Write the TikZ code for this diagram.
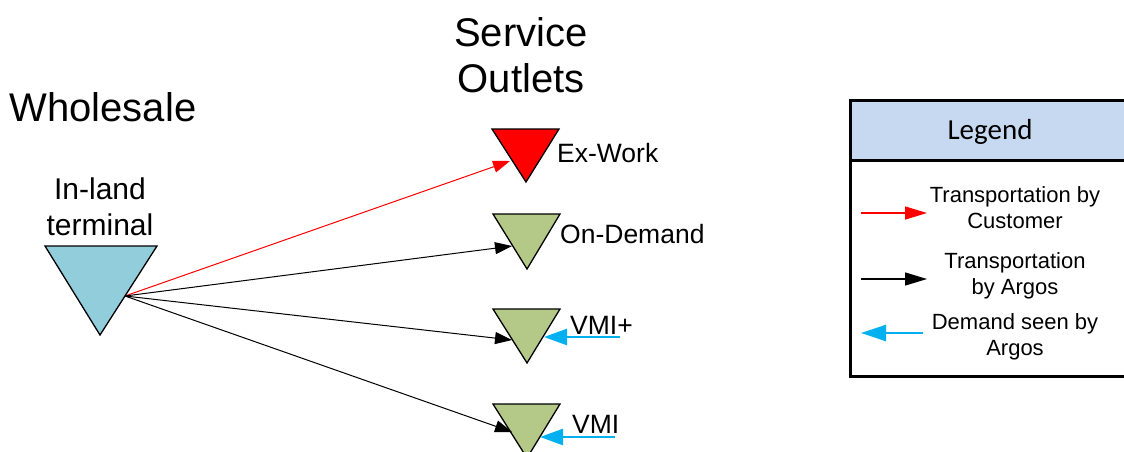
\documentclass[tikz,border=0pt]{standalone}
\usepackage{fontspec}
\setmainfont{Liberation Sans}
\newfontfamily\legendfont{Carlito}
\usetikzlibrary{arrows.meta}
\definecolor{terminalblue}{RGB}{146,205,220}
\definecolor{outletgreen}{RGB}{180,200,136}
\definecolor{demandblue}{RGB}{0,176,240}
\definecolor{legendhead}{RGB}{198,217,240}
\begin{document}
\begin{tikzpicture}[x=1pt,y=-1pt,
  sitetri/.style={draw=black, line width=1.3pt, line join=miter},
  flow/.style={line width=1pt, -{Triangle[length=17pt,width=12pt]}},
  demand/.style={demandblue, line width=2.5pt, -{Triangle[length=23pt,width=16pt]}},
  legflow/.style={line width=1.4pt, -{Triangle[length=22pt,width=13pt]}},
  legdemand/.style={demandblue, line width=2.5pt, -{Triangle[length=25pt,width=16pt]}},
  txt/.style={anchor=base, inner sep=0pt},
  bigtxt/.style={txt, font=\fontsize{40}{48}\selectfont},
  midtxt/.style={txt, font=\fontsize{30}{36}\selectfont},
  sitetxt/.style={txt, anchor=base west, font=\fontsize{26.5}{31}\selectfont},
  legtxt/.style={txt, font=\fontsize{22}{26}\selectfont}]
\useasboundingbox (0,0) rectangle (1124,451);

% headings
\node[bigtxt] (wholesale) at (103,121) {Wholesale};
\node[bigtxt] (service) at (521,46) {Service};
\node[bigtxt] (outlets) at (521,92) {Outlets};

% in-land terminal
\path[sitetri, fill=terminalblue] (45,246) -- (157,246) -- (100,335) -- cycle;
\node[midtxt] (inland) at (100,199) {In-land};
\node[midtxt] (terminal) at (100,235) {terminal};
\coordinate (termout) at (125,296);

% service outlets
\path[sitetri, fill=red] (492,129) -- (559,129) -- (526,182) -- cycle;
\path[sitetri, fill=outletgreen] (493,214) -- (560,214) -- (527,269) -- cycle;
\path[sitetri, fill=outletgreen] (493,309) -- (560,309) -- (527,363) -- cycle;
\path[sitetri, fill=outletgreen] (493,404) -- (560,404) -- (527,458) -- cycle;
\coordinate (exin) at (510,161);
\coordinate (odin) at (512,246);
\coordinate (vpin) at (512,340);
\coordinate (vin) at (512,432);

\node[sitetxt] (exwork) at (557,162) {Ex-Work};
\node[sitetxt] (ondemand) at (560,243) {On-Demand};
\node[sitetxt] (vmiplus) at (570,334) {VMI+};
\node[sitetxt] (vmi) at (572,433) {VMI};

% flows
\draw[flow, red] (termout) -- (exin);
\draw[flow] (termout) -- (odin);
\draw[flow] (termout) -- (vpin);
\draw[flow] (termout) -- (vin);

% demand signals
\coordinate (vpsig) at (620,337);
\coordinate (vpsigend) at (544,337);
\coordinate (vsig) at (615,437);
\coordinate (vsigend) at (540,437);
\draw[demand] (vpsig) -- (vpsigend);
\draw[demand] (vsig) -- (vsigend);

% legend
\fill[legendhead] (850,100) rectangle (1130,160);
\draw[line width=3pt] (850,100) rectangle (1130,376);
\draw[line width=3pt] (850,160) -- (1130,160);
\node[txt, font=\legendfont\fontsize{29}{35}\selectfont] (legendtitle) at (990,139) {Legend};

\coordinate (lra) at (861,213); \coordinate (lrb) at (927,213);
\coordinate (lka) at (861,279); \coordinate (lkb) at (927,279);
\coordinate (lba) at (923,333); \coordinate (lbb) at (861,333);
\draw[legflow, red] (lra) -- (lrb);
\draw[legflow] (lka) -- (lkb);
\draw[legdemand] (lba) -- (lbb);

\node[legtxt] (lr1) at (1015,202) {Transportation by};
\node[legtxt] (lr2) at (1015,228) {Customer};
\node[legtxt] (lk1) at (1015,268) {Transportation};
\node[legtxt] (lk2) at (1015,294) {by Argos};
\node[legtxt] (lb1) at (1015,329) {Demand seen by};
\node[legtxt] (lb2) at (1015,355) {Argos};
\end{tikzpicture}
\end{document}
